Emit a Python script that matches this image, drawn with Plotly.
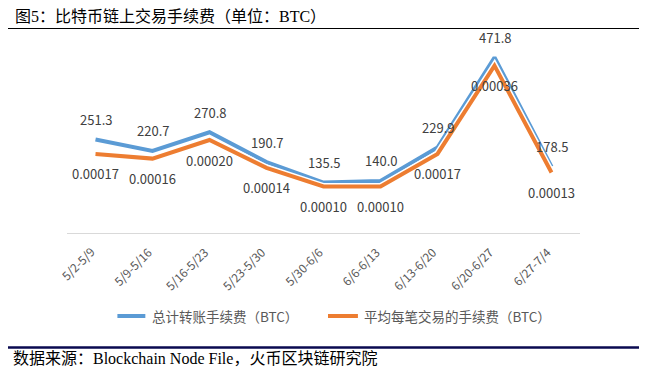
import plotly.graph_objects as go

categories = ["5/2-5/9", "5/9-5/16", "5/16-5/23", "5/23-5/30", "5/30-6/6",
              "6/6-6/13", "6/13-6/20", "6/20-6/27", "6/27-7/4"]
total_fee = [251.3, 220.7, 270.8, 190.7, 135.5, 140.0, 229.9, 471.8, 178.5]
avg_fee = [0.00017, 0.00016, 0.00020, 0.00014, 0.00010, 0.00010, 0.00017, 0.00036, 0.00013]
series_names = ["总计转账手续费（BTC）", "平均每笔交易的手续费（BTC）"]
total_labels = [f"{v:.1f}" for v in total_fee]
avg_labels = [f"{v:.5f}" for v in avg_fee]

BLUE = "#5b9bd5"
ORANGE = "#ed7d31"
CJK = "Noto Sans CJK SC, Noto Sans, sans-serif"
SERIF = "Liberation Serif, Noto Sans CJK SC, serif"

# page body has an 8px margin: work in target-picture pixels, offset by it
O = 8
W, H = 647, 379
plot_l, plot_r, plot_t, plot_b = 66.5, 580.5, 47, 233   # target pixels
l = plot_l - O
t = plot_t - O
r = W - (plot_r - O)
b = H - (plot_b - O)
pw, ph = W - l - r, H - t - b


def px_x(x):
    return (x - O - l) / pw


def px_y(y):
    return (H - b - (y - O)) / ph


fig = go.Figure()
fig.add_trace(go.Scatter(x=categories, y=avg_fee, yaxis="y2", mode="lines",
                         line=dict(color="white", width=7), showlegend=False, hoverinfo="skip"))
fig.add_trace(go.Scatter(x=categories, y=avg_fee, yaxis="y2", mode="lines", name=series_names[1],
                         line=dict(color=ORANGE, width=4), showlegend=False))
fig.add_trace(go.Scatter(x=categories, y=total_fee, mode="lines",
                         line=dict(color="white", width=7), showlegend=False, hoverinfo="skip"))
fig.add_trace(go.Scatter(x=categories, y=total_fee, mode="lines", name=series_names[0],
                         line=dict(color=BLUE, width=4), showlegend=False))

label_font = dict(family=CJK, size=13, color="#404040")
for c, v, tx in zip(categories, total_fee, total_labels):
    fig.add_annotation(x=c, y=v, xref="x", yref="y", text=tx, showarrow=False,
                       yshift=20, font=label_font)
for c, v, tx in zip(categories, avg_fee, avg_labels):
    fig.add_annotation(x=c, y=v, xref="x", yref="y2", text=tx, showarrow=False,
                       yshift=-20, font=label_font)

# rotated category labels
for c in categories:
    fig.add_annotation(x=c, y=px_y(241), xref="x", yref="paper", text=c, showarrow=False,
                       textangle=-45, xanchor="right", yanchor="top", xshift=5,
                       font=dict(family=CJK, size=12, color="#595959"))

# legend (manual)
leg_y = px_y(316)
for (x0, x1, tx0), col, name in zip([(117, 145, 150), (328, 358, 362)], [BLUE, ORANGE], series_names):
    fig.add_shape(type="line", xref="paper", yref="paper", x0=px_x(x0), x1=px_x(x1),
                  y0=leg_y, y1=leg_y, line=dict(color=col, width=4))
    fig.add_annotation(x=px_x(tx0), y=leg_y, xref="paper", yref="paper", text=name,
                       showarrow=False, xanchor="left", yanchor="middle",
                       font=dict(family=CJK, size=13.5, color="#595959"))

fig.add_annotation(x=px_x(13), y=px_y(17), xref="paper", yref="paper",
                   text="图5：比特币链上交易手续费（单位：BTC）",
                   showarrow=False, xanchor="left", yanchor="middle", borderpad=0,
                   font=dict(family=SERIF, size=16, color="#000000"))
fig.add_annotation(x=px_x(11), y=px_y(358), xref="paper", yref="paper",
                   text="数据来源：Blockchain Node File，火币区块链研究院",
                   showarrow=False, xanchor="left", yanchor="middle", borderpad=0,
                   font=dict(family=SERIF, size=16, color="#000000"))

fig.add_shape(type="line", xref="paper", yref="paper", x0=px_x(5), x1=px_x(641),
              y0=px_y(28.5), y1=px_y(28.5), line=dict(color="#000000", width=1))
fig.add_shape(type="line", xref="paper", yref="paper", x0=px_x(0), x1=px_x(641),
              y0=px_y(347.5), y1=px_y(347.5), line=dict(color="#0a0a50", width=2.5))

fig.update_layout(
    width=W, height=H,
    margin=dict(l=l, r=r, t=t, b=b),
    paper_bgcolor="white", plot_bgcolor="white",
    xaxis=dict(type="category", range=[-0.5, 8.5], showline=True, linecolor="#d9d9d9",
               linewidth=1, showgrid=False, ticks="", showticklabels=False, automargin=False),
    yaxis=dict(range=[0, 500], visible=False, showgrid=False, zeroline=False),
    yaxis2=dict(range=[0, 0.0004], overlaying="y", side="right", visible=False,
                showgrid=False, zeroline=False),
    showlegend=False,
)

fig.write_html("out.html")
